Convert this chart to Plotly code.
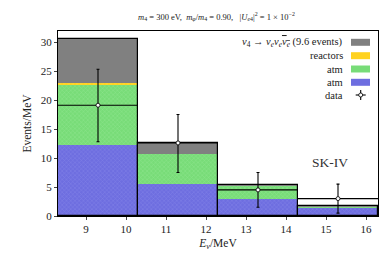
import plotly.graph_objects as go

bin_edges = [8.3, 10.3, 12.3, 14.3, 16.3]
bin_centers = [9.3, 11.3, 13.3, 15.3]
atm_blue = [12.2, 5.5, 2.9, 1.35]
atm_green = [10.4, 5.2, 2.2, 0.25]
reactors = [0.4, 0.0, 0.0, 0.0]
decay = [7.6, 1.9, 0.2, 0.1]
data_vals = [19.1, 12.6, 4.5, 3.0]
data_err_up = [6.2, 4.9, 3.0, 2.5]
data_err_dn = [6.3, 5.1, 3.0, 2.5]

widths = [bin_edges[i + 1] - bin_edges[i] for i in range(len(bin_centers))]
half = [w / 2 for w in widths]

c_blue = [atm_blue[i] for i in range(4)]
c_green = [c_blue[i] + atm_green[i] for i in range(4)]
c_yel = [c_green[i] + reactors[i] for i in range(4)]
c_tot = [c_yel[i] + decay[i] for i in range(4)]

FONT = "Liberation Serif"
fig = go.Figure()

fig.add_trace(go.Bar(x=bin_centers, y=c_tot, width=widths, marker=dict(color="#808080", line=dict(width=0)), showlegend=False))
fig.add_trace(go.Bar(x=bin_centers, y=c_yel, width=widths,
                     marker=dict(color="#FFD21F", line=dict(width=0),
                                 pattern=dict(shape="x", size=3, solidity=0.25, fgcolor="#FFE680")), showlegend=False))
fig.add_trace(go.Bar(x=bin_centers, y=c_green, width=widths,
                     marker=dict(color="#78DC78", line=dict(width=0),
                                 pattern=dict(shape="x", size=3, solidity=0.25, fgcolor="#A8F0A8")), showlegend=False))
fig.add_trace(go.Bar(x=bin_centers, y=c_blue, width=widths,
                     marker=dict(color="#6E6EE0", line=dict(width=0),
                                 pattern=dict(shape="x", size=3, solidity=0.25, fgcolor="#9C9CF0")), showlegend=False))
fig.add_trace(go.Bar(x=bin_centers, y=c_tot, width=widths,
                     marker=dict(color="rgba(0,0,0,0)", line=dict(width=1.2, color="black")), showlegend=False))

fig.add_trace(go.Scatter(
    x=bin_centers, y=data_vals, mode="markers",
    marker=dict(symbol="circle", size=4, color="white", line=dict(width=0.8, color="black")),
    error_x=dict(type="data", array=half, width=0, thickness=1.1, color="black"),
    error_y=dict(type="data", symmetric=False, array=data_err_up, arrayminus=data_err_dn,
                 width=1.5, thickness=1.1, color="black"),
    showlegend=False))

# page body has an 8px default margin, so the figure is sized/placed to compensate
OFF = 8
L, T, PW, PH = 58 - OFF, 31 - OFF, 320, 185
fig.update_layout(
    width=390 - OFF, height=267 - OFF, barmode="overlay", bargap=0,
    margin=dict(l=L, r=390 - OFF - L - PW, t=T, b=267 - OFF - T - PH, autoexpand=False),
    plot_bgcolor="white", paper_bgcolor="white",
    font=dict(family=FONT, size=11, color="#222"),
    xaxis=dict(range=[8.3, 16.3], tickvals=[9, 10, 11, 12, 13, 14, 15, 16], ticks="outside", ticklen=3,
               showline=True, mirror=True, linecolor="black", linewidth=1, showgrid=False, zeroline=False,
               automargin=False,
               title=dict(text="<i>E<sub>ν</sub></i>/MeV", standoff=4, font=dict(size=11.5)),
               tickfont=dict(size=11)),
    yaxis=dict(range=[0, 31.9], tickvals=[0, 5, 10, 15, 20, 25, 30], ticks="outside", ticklen=3,
               showline=True, mirror=True, linecolor="black", linewidth=1, showgrid=False, zeroline=False,
               automargin=False,
               title=dict(text="Events/MeV", standoff=6, font=dict(size=11.5)),
               tickfont=dict(size=11)),
)

fig.add_annotation(xref="paper", yref="paper", x=(216 - 58) / PW, y=1 + (31 - 17) / PH,
                   text="<i>m</i><sub>4</sub> = 300 eV,  <i>m<sub>φ</sub></i>/<i>m</i><sub>4</sub> = 0.90,   |<i>U<sub>e</sub></i><sub>4</sub>|<sup>2</sup> = 1 × 10<sup>−2</sup>",
                   showarrow=False, xanchor="center", yanchor="middle", font=dict(size=8.5, family=FONT))

legend_labels = ["<i>ν</i><sub>4</sub> → <i>ν<sub>e</sub>ν<sub>e</sub></i><span style='text-decoration:overline'><i>ν<sub>e</sub></i></span> (9.6 events)",
                 "reactors", "atm", "atm", "data"]
legend_colors = ["#808080", "#FFD21F", "#78DC78", "#6E6EE0", None]
row_y = [42.3, 55.7, 69.0, 82.3, 95.0]
for lab, col, yy in zip(legend_labels, legend_colors, row_y):
    yp = 1 - (yy - 31) / PH
    fig.add_annotation(xref="paper", yref="paper", x=(345 - 58) / PW, y=yp, text=lab, showarrow=False,
                       xanchor="right", yanchor="middle", font=dict(size=10.5, family=FONT))
    if col is not None:
        fig.add_shape(type="rect", xref="paper", yref="paper",
                      x0=(351 - 58) / PW, x1=(370 - 58) / PW, y0=yp - 3.5 / PH, y1=yp + 3.5 / PH,
                      fillcolor=col, line=dict(width=0))
    else:
        cx = (360.7 - 58) / PW
        fig.add_shape(type="line", xref="paper", yref="paper", x0=cx - 5 / PW, x1=cx + 5 / PW, y0=yp, y1=yp,
                      line=dict(color="black", width=1.1))
        fig.add_shape(type="line", xref="paper", yref="paper", x0=cx, x1=cx, y0=yp - 5 / PH, y1=yp + 5 / PH,
                      line=dict(color="black", width=1.1))
        fig.add_shape(type="circle", xref="paper", yref="paper", x0=cx - 2 / PW, x1=cx + 2 / PW,
                      y0=yp - 2 / PH, y1=yp + 2 / PH, fillcolor="white", line=dict(color="black", width=0.8))

fig.add_annotation(x=15.1, y=9.2, text="SK-IV", showarrow=False, font=dict(size=13.5, family=FONT, color="#333"))

fig.write_html("out.html")
